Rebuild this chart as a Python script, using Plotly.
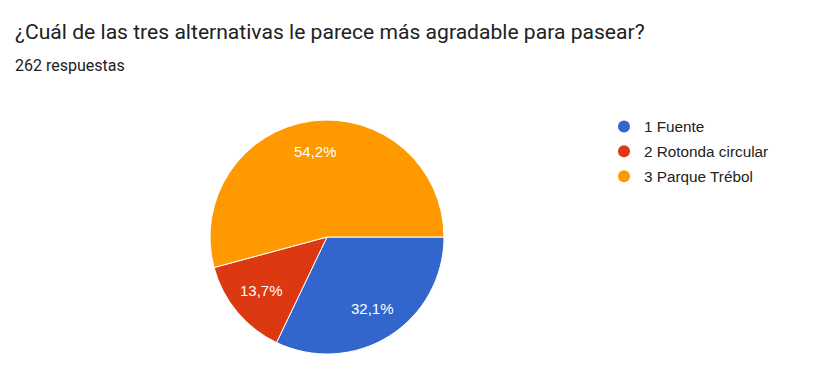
import math
import plotly.graph_objects as go

categories = ["1 Fuente", "2 Rotonda circular", "3 Parque Trébol"]
values = [32.1, 13.7, 54.2]
colors = ["#3366cc", "#dc3912", "#ff9900"]
title = "¿Cuál de las tres alternativas le parece más agradable para pasear?"
subtitle = "262 respuestas"

W, H = 814, 374
OFF = 8  # page body margin offset
cx, cy, r = 327 - OFF, 237 - OFF, 117

fig = go.Figure()
fig.add_trace(go.Pie(
    labels=categories, values=values, sort=False, direction="clockwise", rotation=90,
    marker=dict(colors=colors, line=dict(color="white", width=1)),
    textinfo="none", showlegend=False, hoverinfo="label+percent",
    domain=dict(x=[(cx - r) / W, (cx + r) / W], y=[(H - cy - r) / H, (H - cy + r) / H]),
))
for c, col in zip(categories, colors):
    fig.add_trace(go.Scatter(x=[None], y=[None], mode="markers", name=c, legendgroup=c,
                             marker=dict(symbol="circle", size=15, color=col)))

# slice labels placed at mid-angle of each slice
annots = []
total = sum(values)
start = 0.0
for v in values:
    mid = (start + v / 2) / total * 2 * math.pi  # clockwise from 3 o'clock
    start += v
    px = cx + 0.73 * r * math.cos(mid)
    py = cy + 0.73 * r * math.sin(mid) - 1
    annots.append(dict(text=f"{v:.1f}%".replace(".", ","), x=px / W, y=1 - py / H,
                       xref="paper", yref="paper", xanchor="center", yanchor="middle",
                       showarrow=False,
                       font=dict(family="Liberation Sans, Arial, sans-serif", size=15, color="white")))

annots += [
    dict(text=title, x=(13 - OFF) / W, y=1 - (31 - OFF) / H, xref="paper", yref="paper",
         xanchor="left", yanchor="middle", showarrow=False,
         font=dict(family="Roboto, Arial, sans-serif", size=21.1, color="#202124")),
    dict(text=subtitle, x=(13 - OFF) / W, y=1 - (66 - OFF) / H, xref="paper", yref="paper",
         xanchor="left", yanchor="middle", showarrow=False,
         font=dict(family="Roboto, Arial, sans-serif", size=16, color="#202124")),
]

fig.update_layout(
    width=W, height=H, margin=dict(l=0, r=0, t=0, b=0),
    paper_bgcolor="white", plot_bgcolor="white",
    xaxis=dict(visible=False), yaxis=dict(visible=False),
    legend=dict(x=596 / W, y=1 - 102 / H, xanchor="left", yanchor="top",
                font=dict(family="Liberation Sans, Arial, sans-serif", size=15.3, color="#222222"),
                itemsizing="constant", tracegroupgap=2),
    annotations=annots,
)
fig.write_html("out.html")
